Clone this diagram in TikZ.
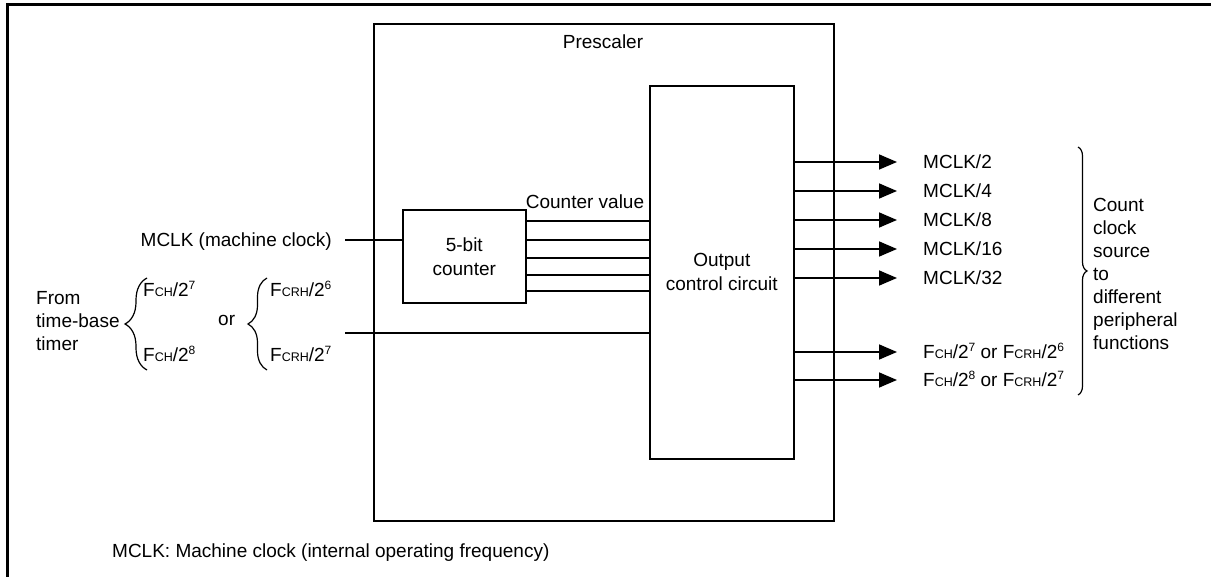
\documentclass[tikz,border=0pt]{standalone}
\usepackage{fontspec}
\setmainfont{Liberation Sans}
\usetikzlibrary{arrows.meta,decorations.pathreplacing}
% small subscript letters and raised exponents
\newcommand{\lo}[1]{{\fontsize{12.5}{12}\selectfont #1}}
\newcommand{\hi}[1]{\raisebox{0.42em}{\fontsize{12}{12}\selectfont #1}}
\begin{document}
\begin{tikzpicture}[x=1pt,y=-1pt,
  txt/.style={font=\fontsize{19}{23}\selectfont, inner sep=0pt},
  blk/.style={draw, line width=1.6pt, font=\fontsize{19}{24}\selectfont, align=center},
  wire/.style={line width=1.6pt},
  arr/.style={wire, -{Triangle[length=18pt,width=15pt]}},
  brc/.style={decorate, decoration={brace, amplitude=#1}, line width=1.2pt}]
\useasboundingbox (0,0) rectangle (1211,577);

% frame
\draw[line width=3pt] (7.5,577) -- (7.5,4.5) -- (1211,4.5);

% blocks
\node[blk, anchor=north west, minimum width=460pt, minimum height=497pt] (pre) at (373,23) {};
\node[txt] (pretitle) at (603,42) {Prescaler};
\node[blk, anchor=north west, minimum width=144pt, minimum height=373pt] (ocb) at (649,85) {Output\\control circuit};
\node[blk, anchor=north west, minimum width=123pt, minimum height=93pt] (cnt) at (402,209) {5-bit\\counter};

% counter value bus
\node[txt, anchor=base] (cv) at (585,209) {Counter value};
\foreach \yy in {221,240,258,275,291}
  \draw[wire] (cnt.east |- 0,\yy) -- (ocb.west |- 0,\yy);

% inputs
\node[txt, anchor=base east] (mclk) at (332,247) {MCLK (machine clock)};
\coordinate (mclkin) at (345,240);
\draw[wire] (mclkin) -- (cnt.west |- mclkin);

\node[txt, anchor=west, align=left] (tb) at (36,321) {From\\time-base\\timer};
\draw[brc=22pt] (147,370) -- (147,278);
\node[txt, anchor=base west] (fch7) at (143,297) {F\lo{CH}/2\hi{7}};
\node[txt, anchor=base west] (fch8) at (143,362) {F\lo{CH}/2\hi{8}};
\node[txt, anchor=base west] (or) at (218,326) {or};
\draw[brc=19pt] (267,370) -- (267,278);
\node[txt, anchor=base west] (fcrh6) at (270,297) {F\lo{CRH}/2\hi{6}};
\node[txt, anchor=base west] (fcrh7) at (270,362) {F\lo{CRH}/2\hi{7}};
\coordinate (fin) at (345,333);
\draw[wire] (fin) -- (ocb.west |- fin);

% outputs
\coordinate (t1) at (897,162);
\coordinate (t2) at (897,191);
\coordinate (t3) at (897,220);
\coordinate (t4) at (897,249);
\coordinate (t5) at (897,278);
\coordinate (t6) at (897,352);
\coordinate (t7) at (897,380);
\foreach \t in {t1,t2,t3,t4,t5,t6,t7}
  \draw[arr] (ocb.east |- \t) -- (\t);
\node[txt, anchor=base west] (o1) at (923,169) {MCLK/2};
\node[txt, anchor=base west] (o2) at (923,198) {MCLK/4};
\node[txt, anchor=base west] (o3) at (923,227) {MCLK/8};
\node[txt, anchor=base west] (o4) at (923,256) {MCLK/16};
\node[txt, anchor=base west] (o5) at (923,285) {MCLK/32};
\node[txt, anchor=base west] (o6) at (923,359) {F\lo{CH}/2\hi{7} or F\lo{CRH}/2\hi{6}};
\node[txt, anchor=base west] (o7) at (923,387) {F\lo{CH}/2\hi{8} or F\lo{CRH}/2\hi{7}};

\draw[brc=9pt] (1078,147) -- (1078,395);
\node[txt, anchor=west, align=left] (dest) at (1093,274)
  {Count\\clock\\source\\to\\different\\peripheral\\functions};

% note
\node[txt, anchor=base west] (note) at (112,557) {MCLK: Machine clock (internal operating frequency)};
\end{tikzpicture}
\end{document}
